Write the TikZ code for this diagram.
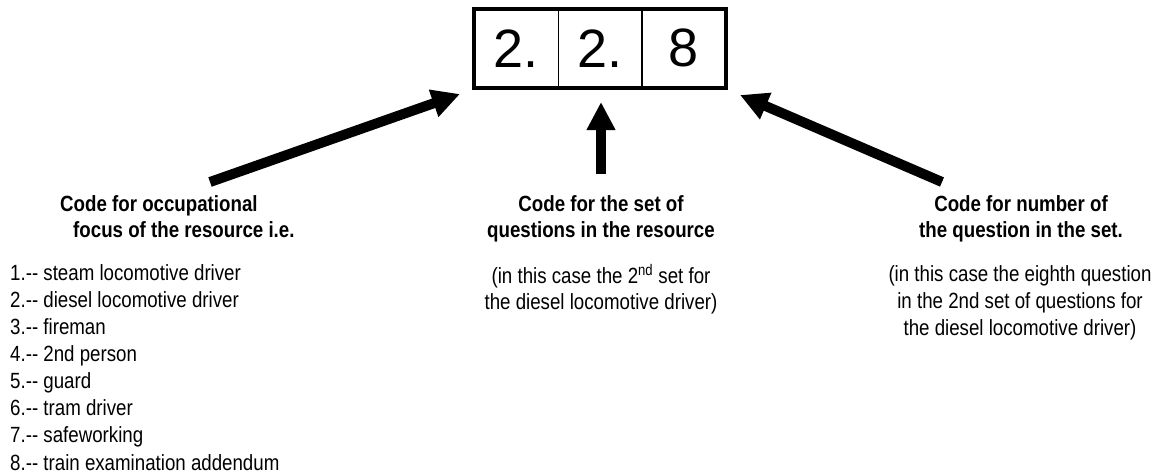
\documentclass[tikz,border=0pt]{standalone}
\usepackage{fontspec}
\setmainfont[FakeStretch=0.85]{Liberation Sans}
\newfontfamily\digitfont{Liberation Sans}
\newcommand\dd{-\kern0pt-\kern0pt}
\usetikzlibrary{arrows.meta}
\begin{document}
\begin{tikzpicture}[x=1pt,y=-1pt,
  cell/.style={draw,line width=1pt,minimum width=83.5pt,minimum height=77.5pt,inner sep=0pt,font=\digitfont\fontsize{54}{54}\selectfont},
  txt/.style={inner sep=0pt,font=\fontsize{22}{27}\selectfont},
  head/.style={txt,font=\fontsize{22}{27}\selectfont\bfseries},
  bigarrow/.style={line width=10pt,-{Triangle[length=28pt,width=27pt]}}]
\useasboundingbox (0,0) rectangle (1158,474);
% code box
\node[cell] (c1) at (516.25,48.25) {2.};
\node[cell] (c2) at (599.75,48.25) {2.};
\node[cell] (c3) at (683.75,48.25) {8};
\draw[line width=4pt] (c1.north west) rectangle (c3.south east);
% arrows
\coordinate (la) at (210,182);
\coordinate (lt) at (460,94);
\coordinate (ma) at (601,174);
\coordinate (mt) at (601,102);
\coordinate (ra) at (942,182);
\coordinate (rt) at (740,95);
\draw[bigarrow] (la) -- (lt);
\draw[bigarrow] (ma) -- (mt);
\draw[bigarrow] (ra) -- (rt);
% left texts
\node[head,anchor=base west] (lh1) at (60,211) {Code for occupational};
\node[head,anchor=base west] (lh2) at (73,237) {focus of the resource i.e.};
\node[txt,anchor=base west] (l1) at (10,280) {1.\dd{} steam locomotive driver};
\node[txt,anchor=base west] (l2) at (10,307.1) {2.\dd{} diesel locomotive driver};
\node[txt,anchor=base west] (l3) at (10,334.3) {3.\dd{} fireman};
\node[txt,anchor=base west] (l4) at (10,361.4) {4.\dd{} 2nd person};
\node[txt,anchor=base west] (l5) at (10,388.6) {5.\dd{} guard};
\node[txt,anchor=base west] (l6) at (10,415.7) {6.\dd{} tram driver};
\node[txt,anchor=base west] (l7) at (10,442.9) {7.\dd{} safeworking};
\node[txt,anchor=base west] (l8) at (10,470) {8.\dd{} train examination addendum};
% middle texts
\node[head,anchor=base] (mh1) at (601,211) {Code for the set of};
\node[head,anchor=base] (mh2) at (601,237) {questions in the resource};
\node[txt,anchor=base] (mp1) at (601,283) {(in this case the 2\textsuperscript{nd} set for};
\node[txt,anchor=base] (mp2) at (601,309) {the diesel locomotive driver)};
% right texts
\node[head,anchor=base] (rh1) at (1021,211) {Code for number of};
\node[head,anchor=base] (rh2) at (1021,237) {the question in the set.};
\node[txt,anchor=base] (rp1) at (1020,281) {(in this case the eighth question};
\node[txt,anchor=base] (rp2) at (1020,308) {in the 2nd set of questions for};
\node[txt,anchor=base] (rp3) at (1020,335) {the diesel locomotive driver)};
\end{tikzpicture}
\end{document}
